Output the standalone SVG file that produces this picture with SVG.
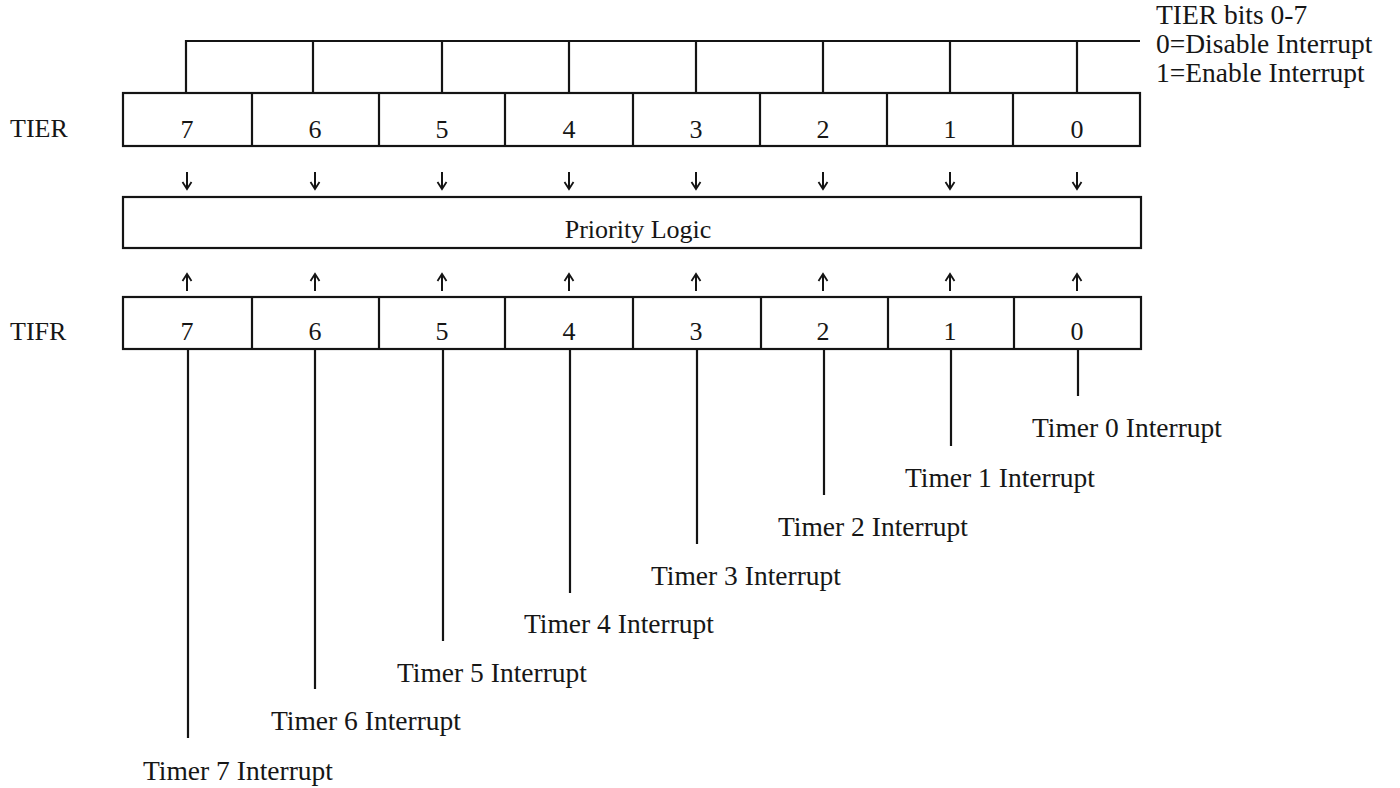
<svg xmlns="http://www.w3.org/2000/svg" width="1400" height="788" viewBox="0 0 1400 788">
<defs>
<style>
.bg{fill:#ffffff}
.box{fill:none;stroke:#141414;stroke-width:2.2}
.ln{fill:none;stroke:#141414;stroke-width:2.2}
.ar{fill:none;stroke:#141414;stroke-width:2}
.hd{fill:none;stroke:#141414;stroke-width:1.8;stroke-linejoin:miter}
text{font-family:"Liberation Serif","Times New Roman",serif;font-size:26px;fill:#161616}
.c{text-anchor:middle}
.lb{font-size:27.5px}
.nt{font-size:27.5px}
</style>
</defs>
<rect class="bg" x="0" y="0" width="1400" height="788"/>

<g id="tier-bits-note">
<path class="ln" d="M186,93 V41 H1140 M313,41 V93 M442,41 V93 M569,41 V93 M696,41 V93 M823,41 V93 M950,41 V93 M1077,41 V93"/>
<text class="nt" x="1156" y="24">TIER bits 0-7</text>
<text class="nt" x="1156" y="53">0=Disable Interrupt</text>
<text class="nt" x="1156" y="82">1=Enable Interrupt</text>
</g>

<g id="tier-register">
<text x="10" y="137">TIER</text>
<rect class="box" x="123" y="93" width="1017" height="53"/>
<path class="ln" d="M252,93 V146 M379,93 V146 M505,93 V146 M633,93 V146 M760,93 V146 M887,93 V146 M1013,93 V146"/>
<text class="c" x="187" y="138">7</text>
<text class="c" x="315" y="138">6</text>
<text class="c" x="442" y="138">5</text>
<text class="c" x="569" y="138">4</text>
<text class="c" x="696" y="138">3</text>
<text class="c" x="823" y="138">2</text>
<text class="c" x="950" y="138">1</text>
<text class="c" x="1077" y="138">0</text>
</g>

<g id="priority-logic">
<rect class="box" x="123" y="197" width="1018" height="51"/>
<text class="c" x="638" y="238">Priority Logic</text>
</g>

<g id="tifr-register">
<text x="10" y="340">TIFR</text>
<rect class="box" x="123" y="297" width="1018" height="52"/>
<path class="ln" d="M252,297 V349 M379,297 V349 M505,297 V349 M633,297 V349 M761,297 V349 M888,297 V349 M1014,297 V349"/>
<text class="c" x="187" y="340">7</text>
<text class="c" x="315" y="340">6</text>
<text class="c" x="442" y="340">5</text>
<text class="c" x="569" y="340">4</text>
<text class="c" x="696" y="340">3</text>
<text class="c" x="823" y="340">2</text>
<text class="c" x="950" y="340">1</text>
<text class="c" x="1077" y="340">0</text>
</g>

<g id="interrupt-labels">
<text class="lb" x="143" y="780">Timer 7 Interrupt</text>
<text class="lb" x="271" y="730">Timer 6 Interrupt</text>
<text class="lb" x="397" y="682">Timer 5 Interrupt</text>
<text class="lb" x="524" y="633">Timer 4 Interrupt</text>
<text class="lb" x="651" y="585">Timer 3 Interrupt</text>
<text class="lb" x="778" y="536">Timer 2 Interrupt</text>
<text class="lb" x="905" y="487">Timer 1 Interrupt</text>
<text class="lb" x="1032" y="437">Timer 0 Interrupt</text>
</g>

<g id="connectors">
<g id="enable-arrows">
<path class="ar" d="M187,172 V189 M315,172 V189 M442,172 V189 M569,172 V189 M696,172 V189 M823,172 V189 M950,172 V189 M1077,172 V189"/>
<path class="hd" d="M182.5,182 L187,189 L191.5,182 M310.5,182 L315,189 L319.5,182 M437.5,182 L442,189 L446.5,182 M564.5,182 L569,189 L573.5,182 M691.5,182 L696,189 L700.5,182 M818.5,182 L823,189 L827.5,182 M945.5,182 L950,189 L954.5,182 M1072.5,182 L1077,189 L1081.5,182"/>
</g>
<g id="flag-arrows">
<path class="ar" d="M187,291 V274 M315,291 V274 M442,291 V274 M569,291 V274 M696,291 V274 M823,291 V274 M950,291 V274 M1077,291 V274"/>
<path class="hd" d="M182.5,281 L187,274 L191.5,281 M310.5,281 L315,274 L319.5,281 M437.5,281 L442,274 L446.5,281 M564.5,281 L569,274 L573.5,281 M691.5,281 L696,274 L700.5,281 M818.5,281 L823,274 L827.5,281 M945.5,281 L950,274 L954.5,281 M1072.5,281 L1077,274 L1081.5,281"/>
</g>
<g id="interrupt-lines">
<path class="ln" d="M188,349 V738 M315,349 V689 M443,349 V641 M570,349 V593 M697,349 V544 M824,349 V495 M951,349 V446 M1078,349 V396"/>
</g>
</g>
</svg>
